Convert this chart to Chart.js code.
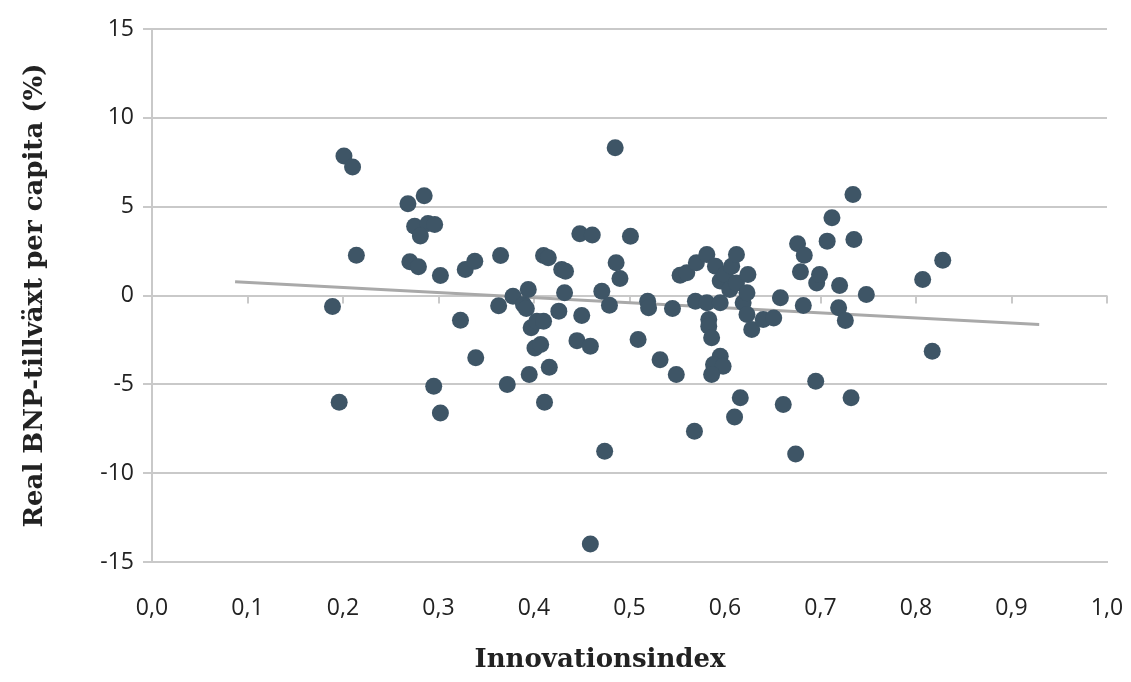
<!DOCTYPE html>
<html>
<head>
<meta charset="utf-8">
<script src="https://cdn.jsdelivr.net/npm/chart.js@4/dist/chart.umd.min.js"></script>
<style>
  html, body { margin: 0; padding: 0; background: #fff; }
  #wrap { width: 1131px; height: 682px; position: relative; }
</style>
</head>
<body>
<div id="wrap"><canvas id="chart"></canvas></div>
<script>
// innovation index (x) and real GDP growth per capita in % (y)
const innovX = [
    0.189, 0.201, 0.210, 0.214, 0.196, 0.268, 0.285, 0.275, 0.289, 0.296,
    0.281, 0.270, 0.279, 0.302, 0.295, 0.302, 0.323, 0.328, 0.338, 0.339,
    0.365, 0.363, 0.372, 0.378, 0.389, 0.392, 0.394, 0.395, 0.397, 0.401,
    0.403, 0.407, 0.410, 0.410, 0.411, 0.415, 0.416, 0.426, 0.429, 0.433,
    0.432, 0.445, 0.448, 0.450, 0.459, 0.459, 0.461, 0.471, 0.474, 0.479,
    0.485, 0.486, 0.490, 0.501, 0.509, 0.519, 0.520, 0.532, 0.545, 0.549,
    0.553, 0.560, 0.568, 0.569, 0.570, 0.581, 0.581, 0.583, 0.583, 0.586,
    0.590, 0.595, 0.595, 0.595, 0.588, 0.598, 0.586, 0.600, 0.605, 0.607,
    0.610, 0.612, 0.612, 0.616, 0.619, 0.623, 0.623, 0.624, 0.628, 0.640,
    0.651, 0.658, 0.661, 0.674, 0.676, 0.679, 0.683, 0.682, 0.695, 0.696,
    0.699, 0.707, 0.712, 0.719, 0.720, 0.726, 0.732, 0.734, 0.735, 0.748,
    0.807, 0.817, 0.828
];
const growthY = [
    -0.62, 7.85, 7.23, 2.27, -6.01, 5.17, 5.62, 3.90, 4.05, 4.00,
    3.35, 1.90, 1.62, 1.13, -5.11, -6.61, -1.39, 1.46, 1.93, -3.51,
    2.25, -0.58, -5.01, -0.04, -0.51, -0.73, 0.34, -4.45, -1.82, -2.95,
    -1.45, -2.76, -1.45, 2.25, -6.01, 2.12, -4.04, -0.88, 1.46, 1.37,
    0.15, -2.54, 3.47, -1.13, -2.85, -13.99, 3.40, 0.24, -8.77, -0.55,
    8.32, 1.84, 0.96, 3.34, -2.48, -0.32, -0.69, -3.61, -0.73, -4.45,
    1.14, 1.28, -7.64, -0.32, 1.84, 2.31, -0.41, -1.35, -1.73, -2.38,
    1.65, 0.81, -0.41, -3.42, -3.89, -3.98, -4.45, 1.18, 0.34, 1.65,
    -6.84, 2.31, 0.71, -5.76, -0.41, 0.15, -1.07, 1.18, -1.92, -1.35,
    -1.26, -0.13, -6.14, -8.92, 2.91, 1.33, 2.27, -0.56, -4.83, 0.71,
    1.18, 3.06, 4.38, -0.69, 0.56, -1.41, -5.76, 5.69, 3.15, 0.06,
    0.90, -3.14, 1.99
];

// linear trend line end points
const trendX = [0.087, 0.929];
const trendY = [0.78, -1.63];

const xTitle = 'Innovationsindex';
const yTitle = 'Real BNP-tillväxt per capita (%)';

const gridGray = '#c9c9c9';
const labelFont = { family: 'Open Sans', size: 23 };
const titleFont = { family: 'DejaVu Serif', size: 26, weight: 'bold' };

const points = innovX.map((x, i) => ({ x: x, y: growthY[i] }));
const trend = trendX.map((x, i) => ({ x: x, y: trendY[i] }));

// small tick marks on the zero line plus the x title, like the original
const axisExtras = {
    id: 'axisExtras',
    beforeDatasetsDraw(chart) {
        const ctx = chart.ctx;
        const xs = chart.scales.x, ys = chart.scales.y;
        const y0 = ys.getPixelForValue(0);
        ctx.save();
        ctx.strokeStyle = gridGray;
        ctx.lineWidth = 2;
        ctx.beginPath();
        for (let v = 1; v <= 10; v++) {
            const px = Math.round(xs.getPixelForValue(v / 10));
            ctx.moveTo(px, y0);
            ctx.lineTo(px, y0 + 8);
        }
        ctx.stroke();
        ctx.restore();
    },
    afterDraw(chart) {
        const ctx = chart.ctx;
        ctx.save();
        ctx.fillStyle = '#222';
        ctx.font = `bold ${titleFont.size}px "${titleFont.family}"`;
        ctx.textAlign = 'center';
        ctx.textBaseline = 'middle';
        ctx.fillText(xTitle, 600, 660);
        ctx.restore();
    }
};

new Chart(document.getElementById('chart'), {
    type: 'scatter',
    data: {
        datasets: [
            {
                label: 'Trend',
                type: 'line',
                data: trend,
                borderColor: '#a9a9a9',
                borderWidth: 3,
                pointRadius: 0,
                fill: false,
                order: 2
            },
            {
                label: 'Länder',
                data: points,
                backgroundColor: '#3e5566',
                borderColor: '#3e5566',
                borderWidth: 0,
                pointRadius: 8.5,
                order: 1
            }
        ]
    },
    options: {
        responsive: true,
        maintainAspectRatio: false,
        animation: false,
        layout: { padding: { top: 29, right: 0, bottom: 0, left: 0 } },
        plugins: {
            legend: { display: false },
            tooltip: { enabled: false }
        },
        scales: {
            x: {
                type: 'linear',
                min: 0,
                max: 1,
                ticks: {
                    stepSize: 0.1,
                    color: '#222',
                    font: labelFont,
                    padding: 33,
                    callback: v => v.toFixed(1).replace('.', ',')
                },
                grid: { display: false, drawTicks: false },
                border: { display: true, color: gridGray, width: 2 },
                afterFit(scale) {
                    scale.height = 120;
                    scale.paddingRight = 24;
                }
            },
            y: {
                min: -15,
                max: 15,
                ticks: {
                    stepSize: 5,
                    color: '#222',
                    font: labelFont,
                    padding: 9
                },
                grid: { color: gridGray, lineWidth: 2, tickLength: 9, tickColor: gridGray },
                border: { display: true, color: gridGray, width: 2 },
                title: {
                    display: true,
                    text: yTitle,
                    color: '#222',
                    font: titleFont,
                    padding: { top: 20, bottom: 0 }
                },
                afterFit(scale) { scale.width = 152; }
            }
        }
    },
    plugins: [axisExtras]
});
</script>
</body>
</html>
